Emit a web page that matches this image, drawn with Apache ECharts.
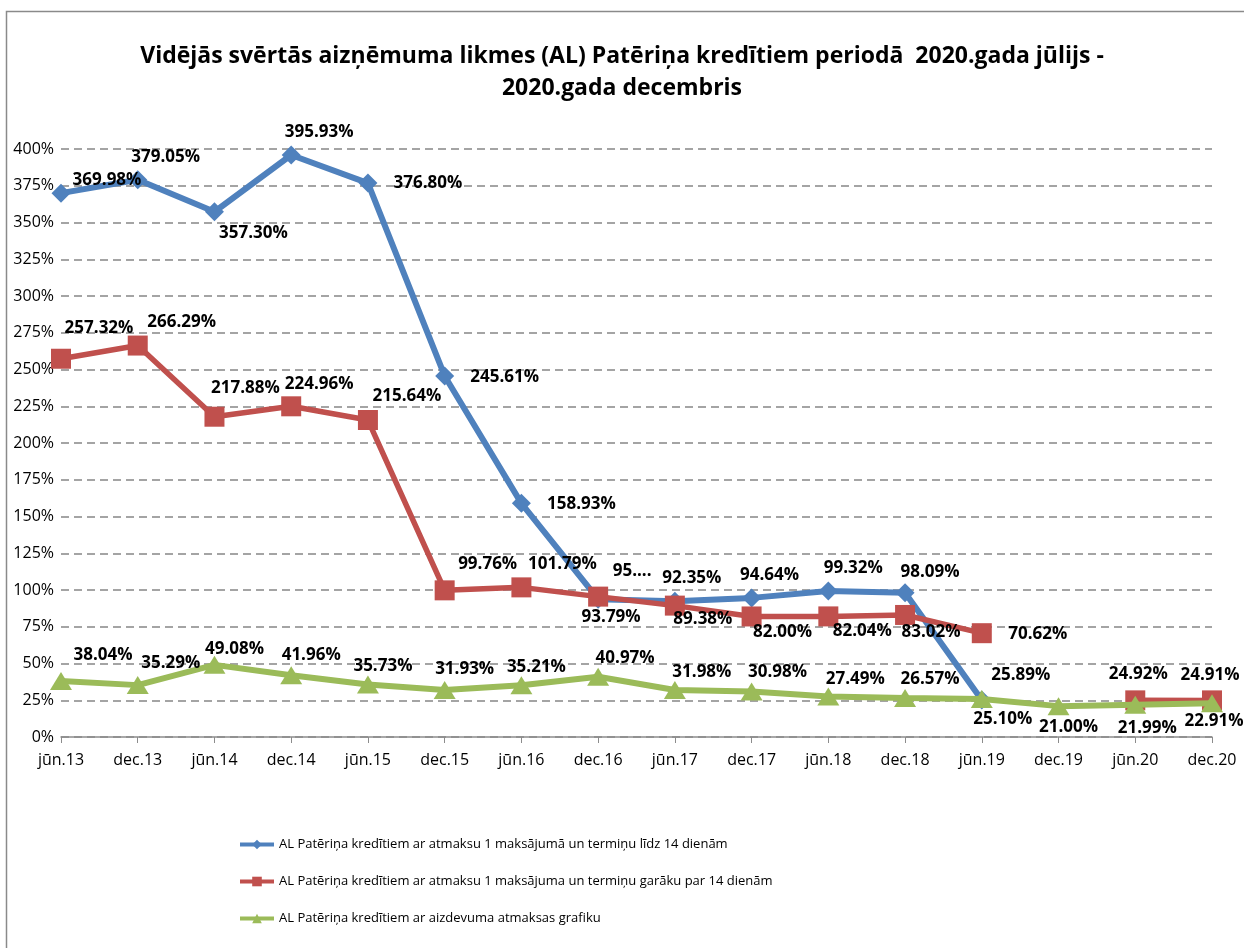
<!DOCTYPE html>
<html>
<head>
<meta charset="utf-8">
<script src="https://cdn.jsdelivr.net/npm/echarts@6/dist/echarts.min.js"></script>
<style>
  html, body { margin: 0; padding: 0; background: #fff; }
  #chart { width: 1244px; height: 948px; }
</style>
</head>
<body>
<div id="chart"></div>
<script>
// periodi
const periods = ['jūn.13', 'dec.13', 'jūn.14', 'dec.14', 'jūn.15', 'dec.15', 'jūn.16', 'dec.16',
  'jūn.17', 'dec.17', 'jūn.18', 'dec.18', 'jūn.19', 'dec.19', 'jūn.20', 'dec.20'];

const seriesNames = [
  'AL Patēriņa kredītiem ar atmaksu 1 maksājumā un termiņu līdz 14 dienām',
  'AL Patēriņa kredītiem ar atmaksu 1 maksājuma un termiņu garāku par 14 dienām',
  'AL Patēriņa kredītiem ar aizdevuma atmaksas grafiku'
];

// vērtības, %
const shortTerm = [369.98, 379.05, 357.30, 395.93, 376.80, 245.61, 158.93, 93.79,
  92.35, 94.64, 99.32, 98.09, 25.10, null, null, null];
const longTerm = [257.32, 266.29, 217.88, 224.96, 215.64, 99.76, 101.79, 95.50,
  89.38, 82.00, 82.04, 83.02, 70.62, null, 24.92, 24.91];
const schedule = [38.04, 35.29, 49.08, 41.96, 35.73, 31.93, 35.21, 40.97,
  31.98, 30.98, 27.49, 26.57, 25.89, 21.00, 21.99, 22.91];

// label offsets (px from marker centre)
const shortOffsets = [[46,-13],[28,-23],[39,21],[28,-23],[60,0],[60,1],[60,1],[13,18],
  [17,-23],[18,-23],[25,-23],[25,-21],[21,19],[0,0],[0,0],[0,0]];
const longOffsets = [[38,-31],[44,-23],[31,-29],[28,-22],[39,-24],[43,-26],[41,-23],[34,-25],
  [28,14],[31,16],[34,15],[26,17],[56,1],[0,0],[3,-26],[-2,-25]];
const schedOffsets = [[42,-26],[33,-22],[20,-16],[20,-20],[15,-18],[20,-21],[15,-18],[27,-19],
  [27,-18],[26,-19],[27,-17],[25,-19],[39,-24],[10,21],[12,23],[2,18]];
// saīsināts uzraksts
const longLabelText = { 7: '95....' };

const font = '"Open Sans", "Liberation Sans", sans-serif';

function points(values, offsets, texts) {
  return values.map((v, i) => ({
    value: v,
    label: {
      offset: offsets[i],
      formatter: (texts && texts[i]) || (v == null ? '' : v.toFixed(2) + '%')
    }
  }));
}

const labelBase = {
  show: true,
  position: 'inside',
  fontFamily: font,
  fontWeight: 'bold',
  fontSize: 17,
  color: '#000'
};

const chart = echarts.init(document.getElementById('chart'));

chart.setOption({
  animation: false,
  color: ['#4f81bd', '#c0504d', '#9bbb59'],
  title: {
    text: 'Vidējās svērtās aizņēmuma likmes (AL) Patēriņa kredītiem periodā  2020.gada jūlijs -\n2020.gada decembris',
    left: 'center',
    top: 35,
    textStyle: { fontFamily: font, fontWeight: 'bold', fontSize: 23, color: '#000', lineHeight: 32 }
  },
  graphic: [{
    type: 'rect',
    shape: { x: 6.5, y: 11.5, width: 1240, height: 940 },
    style: { fill: null, stroke: '#8a8a8a', lineWidth: 1.5 },
    silent: true
  }],
  legend: {
    orient: 'vertical',
    left: 233,
    top: 833,
    itemWidth: 34,
    itemHeight: 12,
    itemGap: 24,
    lineStyle: { width: 4 },
    textStyle: { fontFamily: font, fontSize: 13, color: '#000' },
    data: seriesNames
  },
  grid: { left: 61, right: 32, top: 149, bottom: 211 },
  xAxis: {
    type: 'category',
    data: periods,
    boundaryGap: false,
    axisLine: { lineStyle: { color: '#8c8c8c', width: 1.5 } },
    axisTick: { show: true, length: 6, lineStyle: { color: '#8c8c8c' } },
    axisLabel: { fontFamily: font, fontSize: 16, color: '#000', margin: 15 }
  },
  yAxis: {
    type: 'value',
    min: 0,
    max: 400,
    interval: 25,
    axisLine: { show: false },
    axisTick: { show: false },
    axisLabel: { fontFamily: font, fontSize: 16, color: '#000', margin: 7, formatter: '{value}%' },
    splitLine: { lineStyle: { color: '#868686', width: 1.5, type: [8, 5] } }
  },
  series: [
    {
      name: seriesNames[0],
      type: 'line',
      data: points(shortTerm, shortOffsets),
      symbol: 'diamond',
      symbolSize: 19,
      lineStyle: { width: 6 },
      label: labelBase,
      z: 3
    },
    {
      name: seriesNames[1],
      type: 'line',
      data: points(longTerm, longOffsets, longLabelText),
      symbol: 'rect',
      symbolSize: 20,
      lineStyle: { width: 5.5 },
      label: labelBase,
      z: 4
    },
    {
      name: seriesNames[2],
      type: 'line',
      data: points(schedule, schedOffsets),
      symbol: 'triangle',
      symbolSize: [22, 18],
      lineStyle: { width: 6 },
      label: labelBase,
      z: 5
    }
  ]
});
</script>
</body>
</html>
